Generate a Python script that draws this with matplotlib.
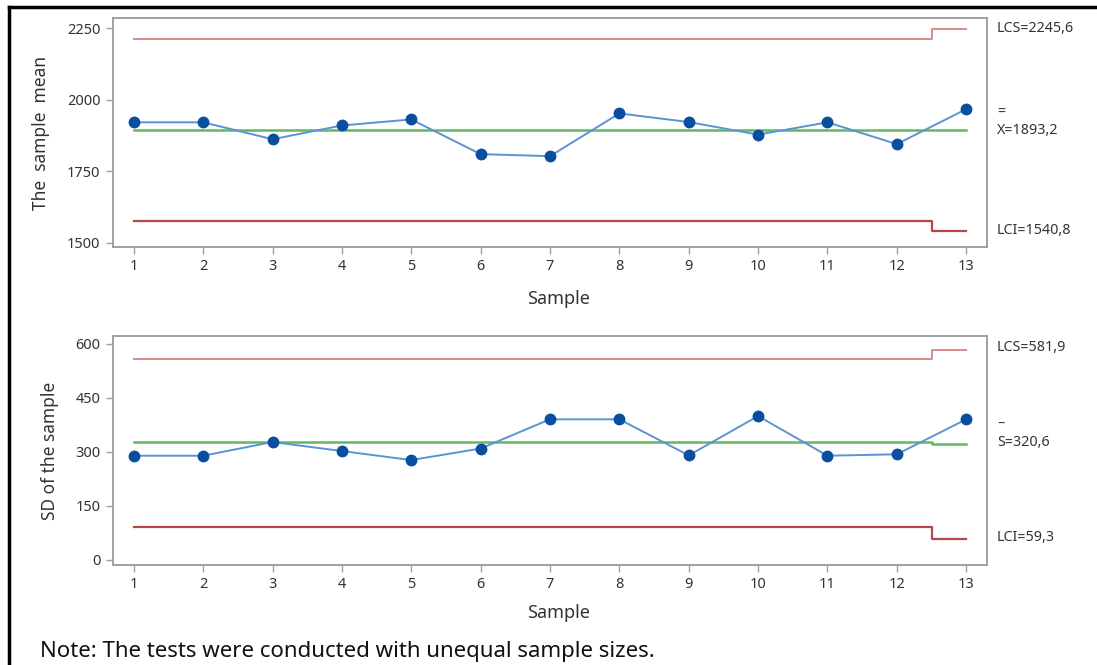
import matplotlib
matplotlib.use("Agg")
import matplotlib.pyplot as plt
from matplotlib.lines import Line2D

plt.rcParams['font.family'] = ['Noto Sans', 'DejaVu Sans']

samples = list(range(1, 14))
mean_values = [1921, 1921, 1862, 1910, 1931, 1810, 1803, 1952, 1922, 1878, 1921, 1845, 1967]
mean_ucl = [2210.0] * 12 + [2245.6]
mean_center = [1893.2] * 13
mean_lcl = [1576.4] * 12 + [1540.8]

sd_values = [289, 289, 327, 302, 277, 309, 390, 390, 290, 399, 289, 293, 390]
sd_ucl = [558.0] * 12 + [581.9]
sd_center = [326.0] * 12 + [320.6]
sd_lcl = [92.0] * 12 + [59.3]

mean_ticks = [1500, 1750, 2000, 2250]
sd_ticks = [0, 150, 300, 450, 600]

W, H = 1097, 665
fig = plt.figure(figsize=(W / 100, H / 100), dpi=100)

def px_axes(l, t, r, b):
    return fig.add_axes([l / W, 1 - b / H, (r - l) / W, (b - t) / H])

ax1 = px_axes(113, 18, 987, 247)
ax2 = px_axes(113, 336, 987, 565)

line_c = '#5b93d3'
mark_c = '#0a4ea0'
ucl_c = '#d98a8a'
lcl_c = '#b84646'
cen_c = '#62b862'
spine_c = '#a0a0a0'
txt_c = '#333333'

def style(ax, ticks, ylim, ylabel, xlab_y):
    ax.set_xlim(0.70, 13.30)
    ax.set_ylim(*ylim)
    ax.set_xticks(samples)
    ax.set_yticks(ticks)
    for s in ax.spines.values():
        s.set_color(spine_c)
        s.set_linewidth(1.4)
    ax.tick_params(direction='out', length=5, width=1, color=spine_c,
                   labelsize=10.5, labelcolor=txt_c, pad=4)
    ax.set_xlabel('Sample', fontsize=13, color=txt_c)
    ax.xaxis.set_label_coords(0.510, xlab_y)
    ax.set_ylabel(ylabel, fontsize=12.5, color=txt_c, labelpad=12)

def draw(ax, vals, ucl, cen, lcl):
    ax.plot(samples, ucl, drawstyle='steps-mid', color=ucl_c, lw=1.4)
    ax.plot(samples, lcl, drawstyle='steps-mid', color=lcl_c, lw=1.6)
    ax.plot(samples, cen, drawstyle='steps-mid', color=cen_c, lw=1.8)
    ax.plot(samples, vals, color=line_c, lw=1.4, marker='o', markersize=7.5,
            markerfacecolor=mark_c, markeredgecolor=mark_c, zorder=5)

draw(ax1, mean_values, mean_ucl, mean_center, mean_lcl)
style(ax1, mean_ticks, (1486, 2285), 'The  sample  mean', -0.189)
draw(ax2, sd_values, sd_ucl, sd_center, sd_lcl)
style(ax2, sd_ticks, (-14, 621), 'SD of the sample', -0.171)

tx = 1.0115
kw = dict(fontsize=10.3, color=txt_c, va='center', ha='left')
ax1.text(tx, 2249, 'LCS=2245,6', transform=ax1.get_yaxis_transform(), **kw)
ax1.text(tx, 1955, '=', transform=ax1.get_yaxis_transform(), **kw)
ax1.text(tx, 1893.2, 'X=1893,2', transform=ax1.get_yaxis_transform(), **kw)
ax1.text(tx, 1545, 'LCI=1540,8', transform=ax1.get_yaxis_transform(), **kw)

ax2.text(tx, 590, 'LCS=581,9', transform=ax2.get_yaxis_transform(), **kw)
ax2.text(tx, 375, '–', transform=ax2.get_yaxis_transform(), **kw)
ax2.text(tx, 326, 'S=320,6', transform=ax2.get_yaxis_transform(), **kw)
ax2.text(tx, 61, 'LCI=59,3', transform=ax2.get_yaxis_transform(), **kw)

fig.text(40 / W, 1 - 652 / H, 'Note: The tests were conducted with unequal sample sizes.',
         fontsize=16, color='#111111', va='center', ha='left')

# frame of the figure (top and left edges)
fig.add_artist(Line2D([9 / W, 1], [1 - 7 / H, 1 - 7 / H], color='black', lw=2.5,
                      transform=fig.transFigure))
fig.add_artist(Line2D([9 / W, 9 / W], [0, 1 - 7 / H], color='black', lw=2.5,
                      transform=fig.transFigure))

fig.savefig('out.png', dpi=100)
